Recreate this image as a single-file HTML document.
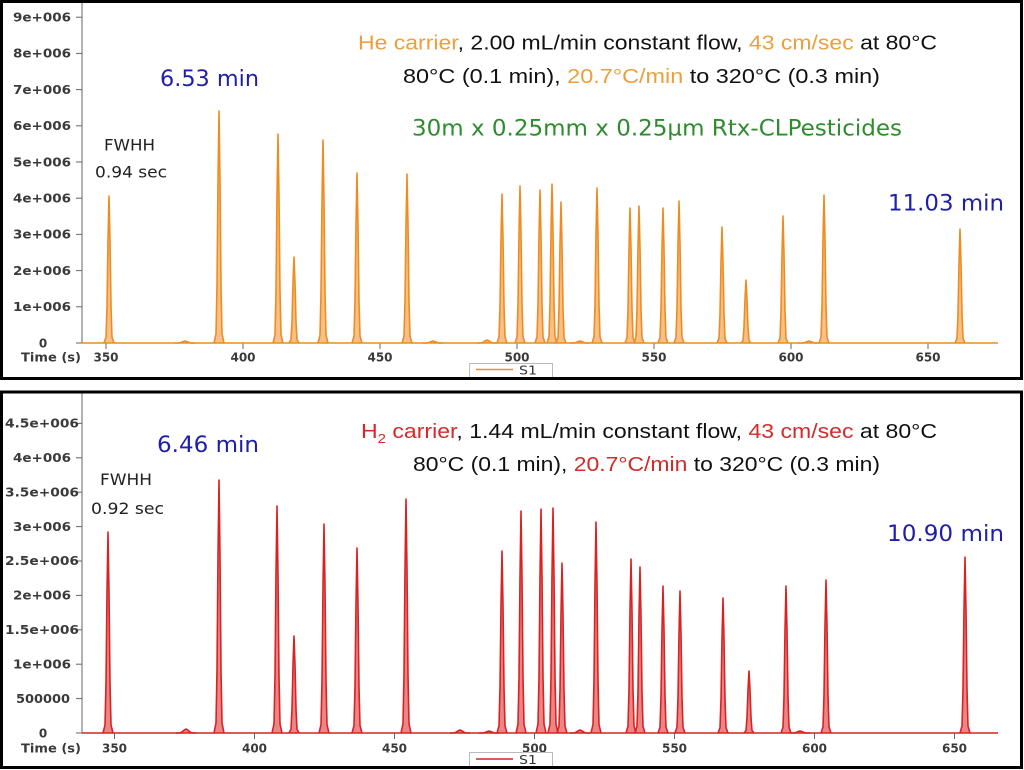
<!DOCTYPE html>
<html><head><meta charset="utf-8"><style>
html,body{margin:0;padding:0;background:#fff;}
svg{display:block;}
.ax{font-family:"DejaVu Sans","Liberation Sans",sans-serif;font-weight:bold;font-size:12px;fill:#3a3a3a;}
.ar{font-family:"Liberation Sans",Arial,sans-serif;font-size:20px;fill:#111;}
.vd{font-family:"DejaVu Sans","Liberation Sans",sans-serif;}
</style></head><body>
<svg width="1024" height="770" viewBox="0 0 1024 770" xmlns="http://www.w3.org/2000/svg">
<defs>
<path id="pk" d="M-5,0 L-3,-0.04 L-2,-0.25 L-1,-0.7 L0,-1 L1,-0.7 L2,-0.25 L3,-0.04 L5,0" vector-effect="non-scaling-stroke"/>
</defs>
<rect width="1024" height="770" fill="#fff"/>

<!-- ================= TOP PANEL ================= -->
<g stroke="#666" stroke-width="1">
<line x1="82" y1="3" x2="82" y2="343"/>
<line x1="76" y1="17.2" x2="82" y2="17.2"/>
<line x1="76" y1="53.4" x2="82" y2="53.4"/>
<line x1="76" y1="89.6" x2="82" y2="89.6"/>
<line x1="76" y1="125.8" x2="82" y2="125.8"/>
<line x1="76" y1="162" x2="82" y2="162"/>
<line x1="76" y1="198.2" x2="82" y2="198.2"/>
<line x1="76" y1="234.4" x2="82" y2="234.4"/>
<line x1="76" y1="270.6" x2="82" y2="270.6"/>
<line x1="76" y1="306.8" x2="82" y2="306.8"/>
<line x1="76" y1="343" x2="82" y2="343"/>
<line x1="106" y1="343" x2="106" y2="349"/>
<line x1="243" y1="343" x2="243" y2="349"/>
<line x1="380" y1="343" x2="380" y2="349"/>
<line x1="517" y1="343" x2="517" y2="349"/>
<line x1="654" y1="343" x2="654" y2="349"/>
<line x1="791" y1="343" x2="791" y2="349"/>
<line x1="928" y1="343" x2="928" y2="349"/>
</g>
<g class="ax" text-anchor="end">
<text x="71" y="21.5" textLength="58" lengthAdjust="spacingAndGlyphs">9e+006</text>
<text x="71" y="57.7" textLength="58" lengthAdjust="spacingAndGlyphs">8e+006</text>
<text x="71" y="93.9" textLength="58" lengthAdjust="spacingAndGlyphs">7e+006</text>
<text x="71" y="130.1" textLength="58" lengthAdjust="spacingAndGlyphs">6e+006</text>
<text x="71" y="166.3" textLength="58" lengthAdjust="spacingAndGlyphs">5e+006</text>
<text x="71" y="202.5" textLength="58" lengthAdjust="spacingAndGlyphs">4e+006</text>
<text x="71" y="238.7" textLength="58" lengthAdjust="spacingAndGlyphs">3e+006</text>
<text x="71" y="274.9" textLength="58" lengthAdjust="spacingAndGlyphs">2e+006</text>
<text x="71" y="311.1" textLength="58" lengthAdjust="spacingAndGlyphs">1e+006</text>
</g>
<g class="ax" text-anchor="middle">
<text x="43" y="347.5">0</text>
<text x="106" y="361.5">350</text>
<text x="243" y="361.5">400</text>
<text x="380" y="361.5">450</text>
<text x="517" y="361.5">500</text>
<text x="654" y="361.5">550</text>
<text x="791" y="361.5">600</text>
<text x="928" y="361.5">650</text>
</g>
<text class="ax" x="21" y="361.5" textLength="60" lengthAdjust="spacingAndGlyphs">Time (s)</text>

<!-- top series -->
<g stroke="#EE8C22" stroke-width="1.6" fill="#EE8C22" fill-opacity="0.55" stroke-linejoin="round">
<line x1="82" y1="343" x2="998" y2="343" stroke-width="1.5"/>
<use href="#pk" transform="translate(109,343) scale(1,147)"/>
<use href="#pk" transform="translate(219,343) scale(1,232)"/>
<use href="#pk" transform="translate(278,343) scale(1,209)"/>
<use href="#pk" transform="translate(294,343) scale(1,86)"/>
<use href="#pk" transform="translate(323,343) scale(1,203)"/>
<use href="#pk" transform="translate(357,343) scale(1,170)"/>
<use href="#pk" transform="translate(407,343) scale(1,169)"/>
<use href="#pk" transform="translate(502,343) scale(1,149)"/>
<use href="#pk" transform="translate(520,343) scale(1,157)"/>
<use href="#pk" transform="translate(540,343) scale(1,153)"/>
<use href="#pk" transform="translate(552,343) scale(1,159)"/>
<use href="#pk" transform="translate(561,343) scale(1,141)"/>
<use href="#pk" transform="translate(597,343) scale(1,155)"/>
<use href="#pk" transform="translate(630,343) scale(1,135)"/>
<use href="#pk" transform="translate(639,343) scale(1,137)"/>
<use href="#pk" transform="translate(663,343) scale(1,135)"/>
<use href="#pk" transform="translate(679,343) scale(1,142)"/>
<use href="#pk" transform="translate(722,343) scale(1,116)"/>
<use href="#pk" transform="translate(746,343) scale(1,63)"/>
<use href="#pk" transform="translate(783,343) scale(1,127)"/>
<use href="#pk" transform="translate(824,343) scale(1,148)"/>
<use href="#pk" transform="translate(960,343) scale(1,114)"/>
<use href="#pk" transform="translate(185,343) scale(2,2)"/>
<use href="#pk" transform="translate(433,343) scale(2,2)"/>
<use href="#pk" transform="translate(487,343) scale(2,3)"/>
<use href="#pk" transform="translate(580,343) scale(2,2)"/>
<use href="#pk" transform="translate(809,343) scale(2,2)"/>
</g>

<!-- top annotations -->
<text class="ar" x="358" y="49.5" textLength="579" lengthAdjust="spacingAndGlyphs"><tspan fill="#EBA040">He carrier</tspan>, 2.00 mL/min constant flow, <tspan fill="#EBA040">43 cm/sec</tspan> at 80°C</text>
<text class="ar" x="403" y="83" textLength="477" lengthAdjust="spacingAndGlyphs">80°C (0.1 min), <tspan fill="#EBA040">20.7°C/min</tspan> to 320°C (0.3 min)</text>
<text class="vd" x="412" y="135.5" font-size="22" fill="#2E8B2E" textLength="490" lengthAdjust="spacingAndGlyphs">30m x 0.25mm x 0.25µm Rtx-CLPesticides</text>
<text class="vd" x="160" y="86" font-size="22" fill="#1E1EA8" textLength="99" lengthAdjust="spacingAndGlyphs">6.53 min</text>
<text class="vd" x="888" y="210.5" font-size="22" fill="#1E1EA8" textLength="116" lengthAdjust="spacingAndGlyphs">11.03 min</text>
<text class="vd" x="104" y="150.5" font-size="16" fill="#222" textLength="51" lengthAdjust="spacingAndGlyphs">FWHH</text>
<text class="vd" x="95" y="177.5" font-size="16" fill="#222" textLength="72" lengthAdjust="spacingAndGlyphs">0.94 sec</text>

<!-- top legend -->
<rect x="469.5" y="363.5" width="83" height="14" fill="#fff" stroke="#bbb" stroke-width="1"/>
<line x1="476" y1="369.5" x2="513" y2="369.5" stroke="#EE8C22" stroke-width="1.5"/>
<text class="vd" x="519" y="374.5" font-size="12" fill="#333" textLength="18" lengthAdjust="spacingAndGlyphs">S1</text>

<rect x="1.5" y="1.5" width="1020" height="377" fill="none" stroke="#000" stroke-width="3"/>

<!-- ================= BOTTOM PANEL ================= -->
<g stroke="#666" stroke-width="1">
<line x1="82" y1="393" x2="82" y2="733"/>
<line x1="76" y1="423.4" x2="82" y2="423.4"/>
<line x1="76" y1="457.8" x2="82" y2="457.8"/>
<line x1="76" y1="492.2" x2="82" y2="492.2"/>
<line x1="76" y1="526.6" x2="82" y2="526.6"/>
<line x1="76" y1="561" x2="82" y2="561"/>
<line x1="76" y1="595.4" x2="82" y2="595.4"/>
<line x1="76" y1="629.8" x2="82" y2="629.8"/>
<line x1="76" y1="664.2" x2="82" y2="664.2"/>
<line x1="76" y1="698.6" x2="82" y2="698.6"/>
<line x1="76" y1="733" x2="82" y2="733"/>
<line x1="114.5" y1="733" x2="114.5" y2="739"/>
<line x1="254.5" y1="733" x2="254.5" y2="739"/>
<line x1="394.5" y1="733" x2="394.5" y2="739"/>
<line x1="534.5" y1="733" x2="534.5" y2="739"/>
<line x1="674.5" y1="733" x2="674.5" y2="739"/>
<line x1="814.5" y1="733" x2="814.5" y2="739"/>
<line x1="954.5" y1="733" x2="954.5" y2="739"/>
</g>
<g class="ax" text-anchor="end">
<text x="79" y="427.6" textLength="74" lengthAdjust="spacingAndGlyphs">4.5e+006</text>
<text x="71" y="462" textLength="58" lengthAdjust="spacingAndGlyphs">4e+006</text>
<text x="79" y="496.4" textLength="74" lengthAdjust="spacingAndGlyphs">3.5e+006</text>
<text x="71" y="530.8" textLength="58" lengthAdjust="spacingAndGlyphs">3e+006</text>
<text x="79" y="565.2" textLength="74" lengthAdjust="spacingAndGlyphs">2.5e+006</text>
<text x="71" y="599.6" textLength="58" lengthAdjust="spacingAndGlyphs">2e+006</text>
<text x="79" y="634" textLength="74" lengthAdjust="spacingAndGlyphs">1.5e+006</text>
<text x="71" y="668.4" textLength="58" lengthAdjust="spacingAndGlyphs">1e+006</text>
<text x="70" y="702.8" textLength="54" lengthAdjust="spacingAndGlyphs">500000</text>
</g>
<g class="ax" text-anchor="middle">
<text x="43" y="737.5">0</text>
<text x="114.5" y="752.5">350</text>
<text x="254.5" y="752.5">400</text>
<text x="394.5" y="752.5">450</text>
<text x="534.5" y="752.5">500</text>
<text x="674.5" y="752.5">550</text>
<text x="814.5" y="752.5">600</text>
<text x="954.5" y="752.5">650</text>
</g>
<text class="ax" x="21" y="752.5" textLength="60" lengthAdjust="spacingAndGlyphs">Time (s)</text>

<!-- bottom series -->
<g stroke="#D92222" stroke-width="1.6" fill="#D92222" fill-opacity="0.55" stroke-linejoin="round">
<line x1="82" y1="733" x2="998" y2="733" stroke-width="1.5"/>
<use href="#pk" transform="translate(108,733) scale(1,201)"/>
<use href="#pk" transform="translate(219,733) scale(1,253)"/>
<use href="#pk" transform="translate(277,733) scale(1,227)"/>
<use href="#pk" transform="translate(294,733) scale(1,97)"/>
<use href="#pk" transform="translate(324,733) scale(1,209)"/>
<use href="#pk" transform="translate(357,733) scale(1,185)"/>
<use href="#pk" transform="translate(406,733) scale(1,234)"/>
<use href="#pk" transform="translate(502,733) scale(1,182)"/>
<use href="#pk" transform="translate(521,733) scale(1,222)"/>
<use href="#pk" transform="translate(541,733) scale(1,224)"/>
<use href="#pk" transform="translate(553,733) scale(1,225)"/>
<use href="#pk" transform="translate(562,733) scale(1,170)"/>
<use href="#pk" transform="translate(596,733) scale(1,211)"/>
<use href="#pk" transform="translate(631,733) scale(1,174)"/>
<use href="#pk" transform="translate(640,733) scale(1,166)"/>
<use href="#pk" transform="translate(663,733) scale(1,147)"/>
<use href="#pk" transform="translate(680,733) scale(1,142)"/>
<use href="#pk" transform="translate(723,733) scale(1,135)"/>
<use href="#pk" transform="translate(749,733) scale(1,62)"/>
<use href="#pk" transform="translate(786,733) scale(1,147)"/>
<use href="#pk" transform="translate(826,733) scale(1,153)"/>
<use href="#pk" transform="translate(965,733) scale(1,176)"/>
<use href="#pk" transform="translate(186,733) scale(2,4)"/>
<use href="#pk" transform="translate(460,733) scale(2,3)"/>
<use href="#pk" transform="translate(489,733) scale(2,2)"/>
<use href="#pk" transform="translate(580,733) scale(2,3)"/>
<use href="#pk" transform="translate(800,733) scale(2,2)"/>
</g>

<!-- bottom annotations -->
<text class="ar" x="361" y="438" textLength="576" lengthAdjust="spacingAndGlyphs"><tspan fill="#D42A2A">H</tspan><tspan fill="#D42A2A" font-size="13" dy="5">2</tspan><tspan fill="#D42A2A" dy="-5"> carrier</tspan>, 1.44 mL/min constant flow, <tspan fill="#D42A2A">43 cm/sec</tspan> at 80°C</text>
<text class="ar" x="413" y="471" textLength="467" lengthAdjust="spacingAndGlyphs">80°C (0.1 min), <tspan fill="#D42A2A">20.7°C/min</tspan> to 320°C (0.3 min)</text>
<text class="vd" x="157" y="452" font-size="22" fill="#1E1EA8" textLength="102" lengthAdjust="spacingAndGlyphs">6.46 min</text>
<text class="vd" x="887" y="541" font-size="22" fill="#1E1EA8" textLength="117" lengthAdjust="spacingAndGlyphs">10.90 min</text>
<text class="vd" x="100" y="485" font-size="16" fill="#222" textLength="52" lengthAdjust="spacingAndGlyphs">FWHH</text>
<text class="vd" x="91" y="514" font-size="16" fill="#222" textLength="73" lengthAdjust="spacingAndGlyphs">0.92 sec</text>

<!-- bottom legend -->
<rect x="469.5" y="752.5" width="83" height="14" fill="#fff" stroke="#bbb" stroke-width="1"/>
<line x1="476" y1="759" x2="513" y2="759" stroke="#D92222" stroke-width="1.5"/>
<text class="vd" x="519" y="764" font-size="12" fill="#333" textLength="18" lengthAdjust="spacingAndGlyphs">S1</text>

<rect x="1.5" y="392" width="1020" height="375.5" fill="none" stroke="#000" stroke-width="3"/>
</svg>
</body></html>
